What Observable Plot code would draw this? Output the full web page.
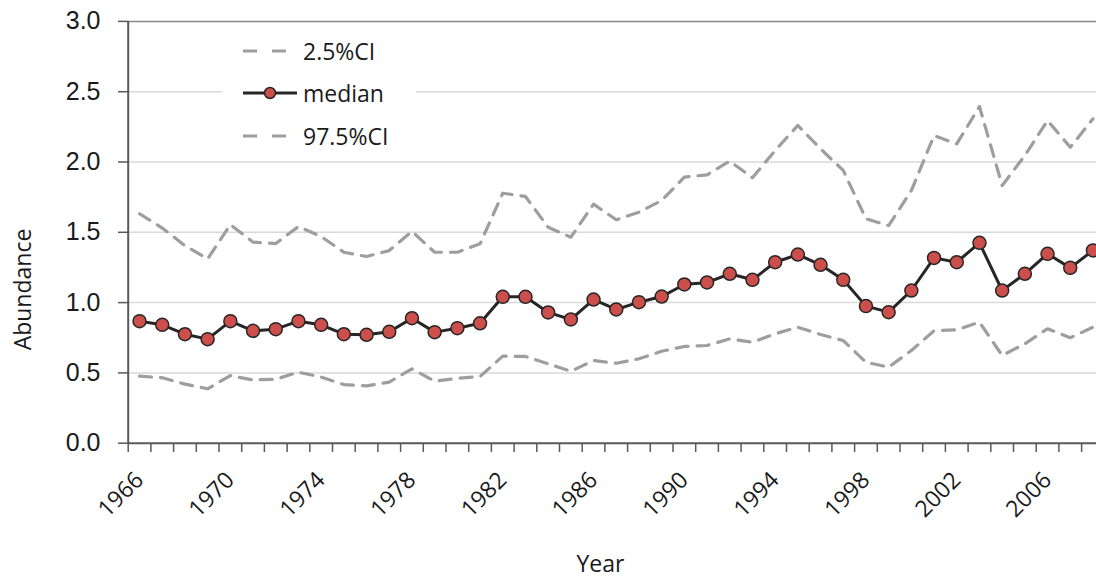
<!DOCTYPE html>
<html><head><meta charset="utf-8">
<script src="https://cdn.jsdelivr.net/npm/d3@7"></script>
<script src="https://cdn.jsdelivr.net/npm/@observablehq/plot@0.6"></script>
<style>
html,body{margin:0;padding:0;background:#fff;overflow:hidden;}
#wrap{position:relative;width:1096px;height:580px;overflow:hidden;}
#legend{position:absolute;left:222px;top:28px;width:194px;height:130px;background:#fff;font-family:"Open Sans",sans-serif;font-size:23px;color:#1a1a1a;}
.row{position:absolute;left:20px;height:40px;display:flex;align-items:center;}
.row svg{margin-right:5px;}
</style></head><body><div id="wrap"><div id="legend"></div></div>
<script>
const years = [1966,1967,1968,1969,1970,1971,1972,1973,1974,1975,1976,1977,1978,1979,1980,1981,1982,1983,1984,1985,1986,1987,1988,1989,1990,1991,1992,1993,1994,1995,1996,1997,1998,1999,2000,2001,2002,2003,2004,2005,2006,2007,2008];
const median = [0.868,0.842,0.775,0.740,0.868,0.799,0.811,0.868,0.842,0.775,0.771,0.792,0.889,0.790,0.818,0.853,1.041,1.041,0.930,0.880,1.022,0.951,1.003,1.043,1.129,1.143,1.205,1.162,1.287,1.342,1.269,1.162,0.975,0.932,1.086,1.318,1.287,1.425,1.086,1.205,1.347,1.247,1.371];
const upper = [1.632,1.53,1.405,1.311,1.555,1.43,1.42,1.541,1.47,1.358,1.328,1.37,1.506,1.358,1.358,1.418,1.778,1.755,1.536,1.465,1.70,1.589,1.643,1.726,1.892,1.909,2.006,1.888,2.082,2.26,2.094,1.94,1.596,1.548,1.797,2.188,2.129,2.395,1.833,2.046,2.295,2.105,2.307];
const lower = [0.477,0.465,0.42,0.387,0.481,0.45,0.455,0.505,0.47,0.417,0.408,0.434,0.529,0.441,0.462,0.474,0.619,0.617,0.565,0.512,0.588,0.569,0.60,0.654,0.688,0.695,0.742,0.718,0.778,0.825,0.773,0.73,0.576,0.541,0.659,0.80,0.806,0.861,0.624,0.707,0.814,0.75,0.825];
const yTicks = [0,0.5,1.0,1.5,2.0,2.5,3.0];
const labelYears = [1966,1970,1974,1978,1982,1986,1990,1994,1998,2002,2006];
const legendLabels = ["2.5%CI","median","97.5%CI"];

const rows = years.map((y,i)=>({year:y, median:median[i], lo:lower[i], hi:upper[i]}));
const bounds = years.map(y=>y-0.5).concat([years[years.length-1]+0.5]);

const dashColor = "#9e9e9e";
const lineColor = "#262626";
const dotFill = "#cd4f4b";

const chart = Plot.plot({
  width:1096, height:580,
  marginTop:21, marginLeft:128, marginRight:0, marginBottom:137,
  x:{type:"linear", domain:[bounds[0], bounds[bounds.length-1]], range:[127.7, 1103.8], axis:null},
  y:{domain:[0,3], range:[442.7,20.9], axis:null},
  style:{fontFamily:"Open Sans, sans-serif", background:"white", color:"#1a1a1a", overflow:"hidden"},
  marks:[
    Plot.ruleY(yTicks.filter(t=>t>0 && t<3), {stroke:"#d9d9d9", strokeWidth:1.5}),
    Plot.ruleY([3], {stroke:"#8a8a8a", strokeWidth:1.5}),
    Plot.line(rows,{x:"year",y:"hi",stroke:dashColor,strokeWidth:3.2,strokeDasharray:"12,9"}),
    Plot.line(rows,{x:"year",y:"lo",stroke:dashColor,strokeWidth:3.2,strokeDasharray:"12,9"}),
    Plot.line(rows,{x:"year",y:"median",stroke:lineColor,strokeWidth:3}),
    Plot.dot(rows,{x:"year",y:"median",r:6.5,fill:dotFill,stroke:lineColor,strokeWidth:1.5}),
    Plot.axisY({ticks:yTicks, tickFormat:d3.format(".1f"), tickSize:10, tickPadding:18, fontSize:25, fontFamily:"Liberation Sans, Arial, sans-serif", stroke:"#595959", strokeWidth:1.5, fill:"#1a1a1a", label:null}),
    Plot.axisX({ticks:bounds, tickFormat:()=>"", tickSize:9, stroke:"#595959", strokeWidth:1.5, label:null}),
    Plot.ruleX([bounds[0]],{stroke:"#595959",strokeWidth:2}),
    Plot.ruleY([0],{stroke:"#595959",strokeWidth:2}),
    Plot.text(labelYears,{x:d=>d, y:d=>0, text:d=>String(d), rotate:-45, textAnchor:"end", lineAnchor:"middle", dy:33, fontSize:23, fill:"#1a1a1a"}),
    Plot.text(["Year"],{frameAnchor:"bottom", text:d=>d, textAnchor:"middle", lineAnchor:"middle", dx:-12, dy:121, fontSize:23, fill:"#1a1a1a"}),
    Plot.text(["Abundance"],{frameAnchor:"left", text:d=>d, rotate:-90, textAnchor:"middle", lineAnchor:"middle", dx:-104.5, dy:57, fontSize:23, fill:"#1a1a1a"})
  ]
});
const wrap = document.getElementById("wrap");
wrap.insertBefore(chart, wrap.firstChild);

// legend
const legend = document.getElementById("legend");
const rowTops = [3, 45, 88];
legendLabels.forEach((lab,i)=>{
  const row = document.createElement("div");
  row.className = "row";
  row.style.top = rowTops[i] + "px";
  const sw = d3.create("svg").attr("width",56).attr("height",20);
  if (lab === "median") {
    sw.append("line").attr("x1",1).attr("x2",55).attr("y1",10).attr("y2",10).attr("stroke",lineColor).attr("stroke-width",3);
    sw.append("circle").attr("cx",28).attr("cy",10).attr("r",5.5).attr("fill",dotFill).attr("stroke",lineColor).attr("stroke-width",1.5);
  } else {
    sw.append("line").attr("x1",1).attr("x2",44).attr("y1",10).attr("y2",10).attr("stroke",dashColor).attr("stroke-width",3).attr("stroke-dasharray","14,15");
  }
  row.appendChild(sw.node());
  const t = document.createElement("span");
  t.textContent = lab;
  row.appendChild(t);
  legend.appendChild(row);
});
</script></body></html>
